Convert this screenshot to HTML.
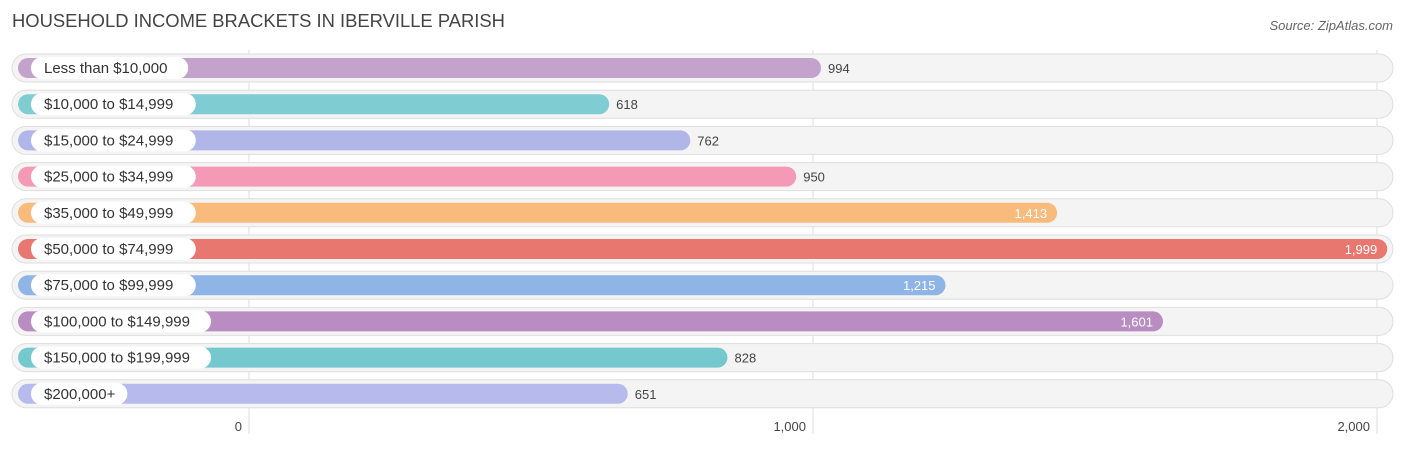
<!DOCTYPE html>
<html><head><meta charset="utf-8"><style>
body{margin:0;background:#fff;font-family:"Liberation Sans",sans-serif;}
</style></head><body>
<svg id="c" width="1406" height="449" xmlns="http://www.w3.org/2000/svg">
<text x="12" y="27" font-size="18.4" fill="#444">HOUSEHOLD INCOME BRACKETS IN IBERVILLE PARISH</text>
<text x="1393" y="30" font-size="13" fill="#666" font-style="italic" text-anchor="end">Source: ZipAtlas.com</text>
<g id="grid"></g><g id="rows"></g><g id="ticks"></g>
</svg>
<script>
const categories=["Less than $10,000","$10,000 to $14,999","$15,000 to $24,999","$25,000 to $34,999","$35,000 to $49,999","$50,000 to $74,999","$75,000 to $99,999","$100,000 to $149,999","$150,000 to $199,999","$200,000+"];
const values=[994,618,762,950,1413,1999,1215,1601,828,651];
const valueLabels=["994","618","762","950","1,413","1,999","1,215","1,601","828","651"];
const colors=["#c3a3cc","#7fcdd3","#b0b6e8","#f49ab7","#f9bb7c","#e8786f","#8fb4e6","#b98dc1","#76c8cf","#b6baec"];
const tickValues=[0,1000,2000];
const tickLabels=["0","1,000","2,000"];
const NS="http://www.w3.org/2000/svg";
const gx=v=>249+0.564*v, bx=v=>261+0.5634*v;
function mk(t,a,p){const e=document.createElementNS(NS,t);for(const k in a)e.setAttribute(k,a[k]);p.appendChild(e);return e;}
const grid=document.getElementById('grid'),rows=document.getElementById('rows'),ticks=document.getElementById('ticks');
tickValues.forEach((v,i)=>{
 const l=mk('line',{x1:gx(v),x2:gx(v),y1:50,y2:434,stroke:'#ddd','stroke-width':1},grid);
 
 
 const t=mk('text',{x:gx(v)-7,y:431,'font-size':13,fill:'#444','text-anchor':'end'},ticks);
 t.textContent=tickLabels[i];
 
 
});
categories.forEach((c,i)=>{
 const cy=68+i*36.2;
 const g=mk('g',{},rows);
 
 
 const tr=mk('rect',{x:12,y:cy-14,width:1381,height:28,rx:14,fill:'#f4f4f4',stroke:'#dedede','stroke-width':1},g);
 
 
 const end=bx(values[i]);
 const b=mk('rect',{x:18,y:cy-10,width:end-18,height:20,rx:10,fill:colors[i]},g);
 
 
 const lw=c.length*7.6+28;
 const p=mk('rect',{x:31,y:cy-11,width:lw,height:22,rx:11,fill:'#fff'},g);
 
 
 const lt=mk('text',{x:44,y:cy+5,'font-size':15,fill:'#333'},g);
 lt.textContent=c;
 
 
 const inside=values[i]>1100;
 const vt=mk('text',{x:inside?end-10:end+7,y:cy+5,'font-size':13,fill:inside?'#fff':'#444','text-anchor':inside?'end':'start'},g);
 vt.textContent=valueLabels[i];
 
 
});
</script>
</body></html>
